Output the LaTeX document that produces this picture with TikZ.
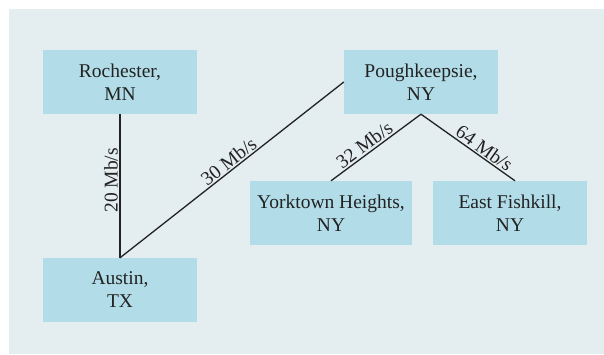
\documentclass[tikz,border=0pt]{standalone}
\usepackage{fontspec}
\setmainfont{Liberation Serif}
\newfontfamily\sitefont{Liberation Serif}
\definecolor{bgpanel}{HTML}{E4EDEF}
\definecolor{boxfill}{HTML}{B2DDE8}
\definecolor{inkcol}{HTML}{222222}
\begin{document}
\begin{tikzpicture}[x=1pt,y=1pt,
  site/.style={fill=boxfill, draw=none, minimum width=154pt, minimum height=64pt,
    align=center, text=inkcol, font=\sitefont\fontsize{19.5}{23}\selectfont, inner sep=0pt},
  link/.style={draw=inkcol, line width=1.3pt},
  rate/.style={sloped, above, inner sep=1.5pt, text=inkcol, font=\sitefont\fontsize{19.5}{23}\selectfont}]
\useasboundingbox (0,0) rectangle (604,354);
\fill[white] (0,0) rectangle (604,354);
\fill[bgpanel] (9,0) rectangle (604,345);
\node[site] (roch) at (120,272) {Rochester,\\MN};
\node[site] (pough) at (421,272) {Poughkeepsie,\\NY};
\node[site, minimum width=162pt] (york) at (331,141) {Yorktown Heights,\\NY};
\node[site] (fish) at (510,141) {East Fishkill,\\NY};
\node[site] (austin) at (120,64) {Austin,\\TX};
\draw[link] (austin.north) -- node[rate, pos=0.54] {20 Mb/s} (roch.south);
\draw[link] (austin.north) -- node[rate, pos=0.51] {30 Mb/s} (pough.west);
\draw[link] (york.north) -- node[rate, pos=0.43] {32 Mb/s} (pough.south);
\draw[link] (pough.south) -- node[rate, pos=0.62] {64 Mb/s} ([xshift=5pt]fish.north);
\end{tikzpicture}
\end{document}
